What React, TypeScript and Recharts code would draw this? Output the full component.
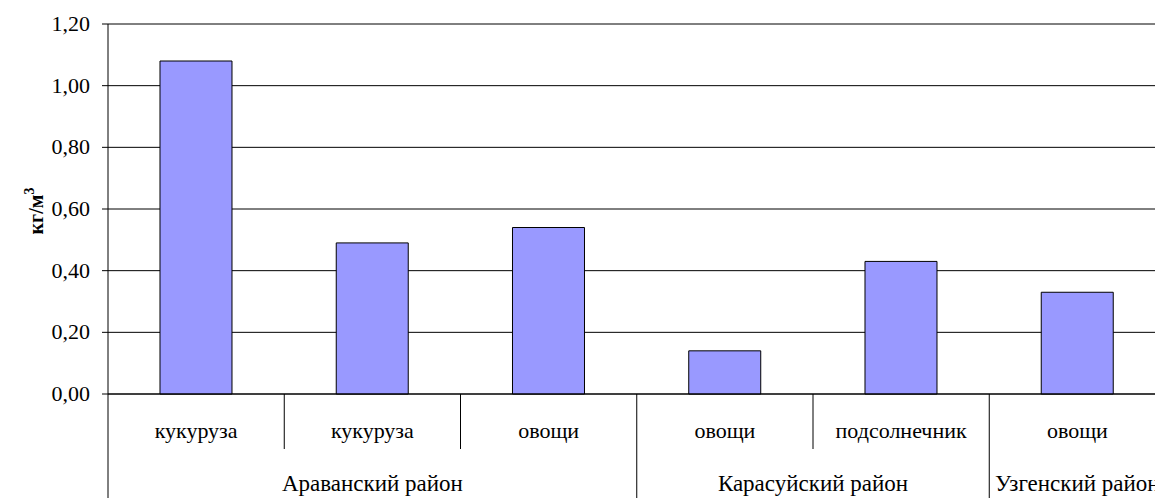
import React from 'react';
import { BarChart, Bar, XAxis, YAxis, CartesianGrid } from 'recharts';

const crops = ['кукуруза', 'кукуруза', 'овощи', 'овощи', 'подсолнечник', 'овощи'];
const districts = [
  'Араванский район',
  'Араванский район',
  'Араванский район',
  'Карасуйский район',
  'Карасуйский район',
  'Узгенский район',
];
const values = [1.08, 0.49, 0.54, 0.14, 0.43, 0.33];
const yTicks = [0, 0.2, 0.4, 0.6, 0.8, 1.0, 1.2];

const data = crops.map((c, i) => ({ id: i, crop: c, district: districts[i], value: values[i] }));

const W = 1170;
const H = 498;
const FONT = 'Liberation Serif';

const groupStart = (i: number) => i === 0 || districts[i] !== districts[i - 1];
const groupSize = (i: number) => {
  let n = 0;
  for (let j = i; j < districts.length && districts[j] === districts[i]; j++) n++;
  return n;
};

const txt = { fontFamily: FONT, fontSize: 22 };
const groupTxt = { fontFamily: FONT, fontSize: 23 };

const CatTick = (props: any) => {
  const { x, y, payload, index } = props;
  const i = typeof index === 'number' ? index : payload.index;
  const half = payload && typeof payload.offset === 'number' && payload.offset > 0 ? payload.offset : 88.1;
  const band = half * 2;
  const left = x - half;
  const isStart = groupStart(i);
  const last = i === crops.length - 1;
  return (
    <g>
      <line x1={left} y1={y} x2={left} y2={isStart ? y + 104 : y + 55} stroke="#000" strokeWidth={1} />
      {last && <line x1={x + half} y1={y} x2={x + half} y2={y + 104} stroke="#000" strokeWidth={1} />}
      <text x={x} y={y + 44} textAnchor="middle" style={txt} fill="#000">
        {crops[i]}
      </text>
      {isStart && (
        <text x={left + (groupSize(i) * band) / 2} y={y + 97} textAnchor="middle" style={groupTxt} fill="#000">
          {districts[i]}
        </text>
      )}
    </g>
  );
};

const YTick = (props: any) => {
  const { x, y, payload } = props;
  return (
    <text x={x} y={y} dy={7} textAnchor="end" style={txt} fill="#000">
      {Number(payload.value).toFixed(2).replace('.', ',')}
    </text>
  );
};

const YLabel = () => (
  <text
    x={43}
    y={211}
    transform="rotate(-90, 43, 211)"
    textAnchor="middle"
    style={{ fontFamily: FONT, fontWeight: 'bold', fontSize: 20 }}
    fill="#000"
  >
    кг/м
    <tspan dy={-9} style={{ fontSize: 14 }}>
      3
    </tspan>
  </text>
);

export default function App() {
  return (
    <div
      style={{
        position: 'absolute',
        left: 0,
        top: 0,
        width: 1155,
        height: 498,
        overflow: 'hidden',
        background: '#fff',
      }}
    >
      <BarChart
        width={W}
        height={H}
        data={data}
        margin={{ top: 24, right: W - 1165.5, left: 0, bottom: 0 }}
        barCategoryGap="29.5%"
      >
        <CartesianGrid horizontal={true} vertical={false} stroke="#000" strokeWidth={1} />
        <XAxis
          dataKey="id"
          type="category"
          height={104}
          interval={0}
          tickLine={false}
          tickSize={0}
          tickMargin={0}
          axisLine={{ stroke: '#000', strokeWidth: 1 }}
          tick={<CatTick />}
        />
        <YAxis
          width={108}
          domain={[0, 1.2]}
          ticks={yTicks}
          interval={0}
          tickSize={6}
          tickMargin={12}
          tickLine={{ stroke: '#000' }}
          axisLine={{ stroke: '#000', strokeWidth: 1 }}
          tick={<YTick />}
          label={<YLabel />}
        />
        <Bar dataKey="value" fill="#9999FF" stroke="#000" strokeWidth={1} isAnimationActive={false} />
      </BarChart>
    </div>
  );
}
